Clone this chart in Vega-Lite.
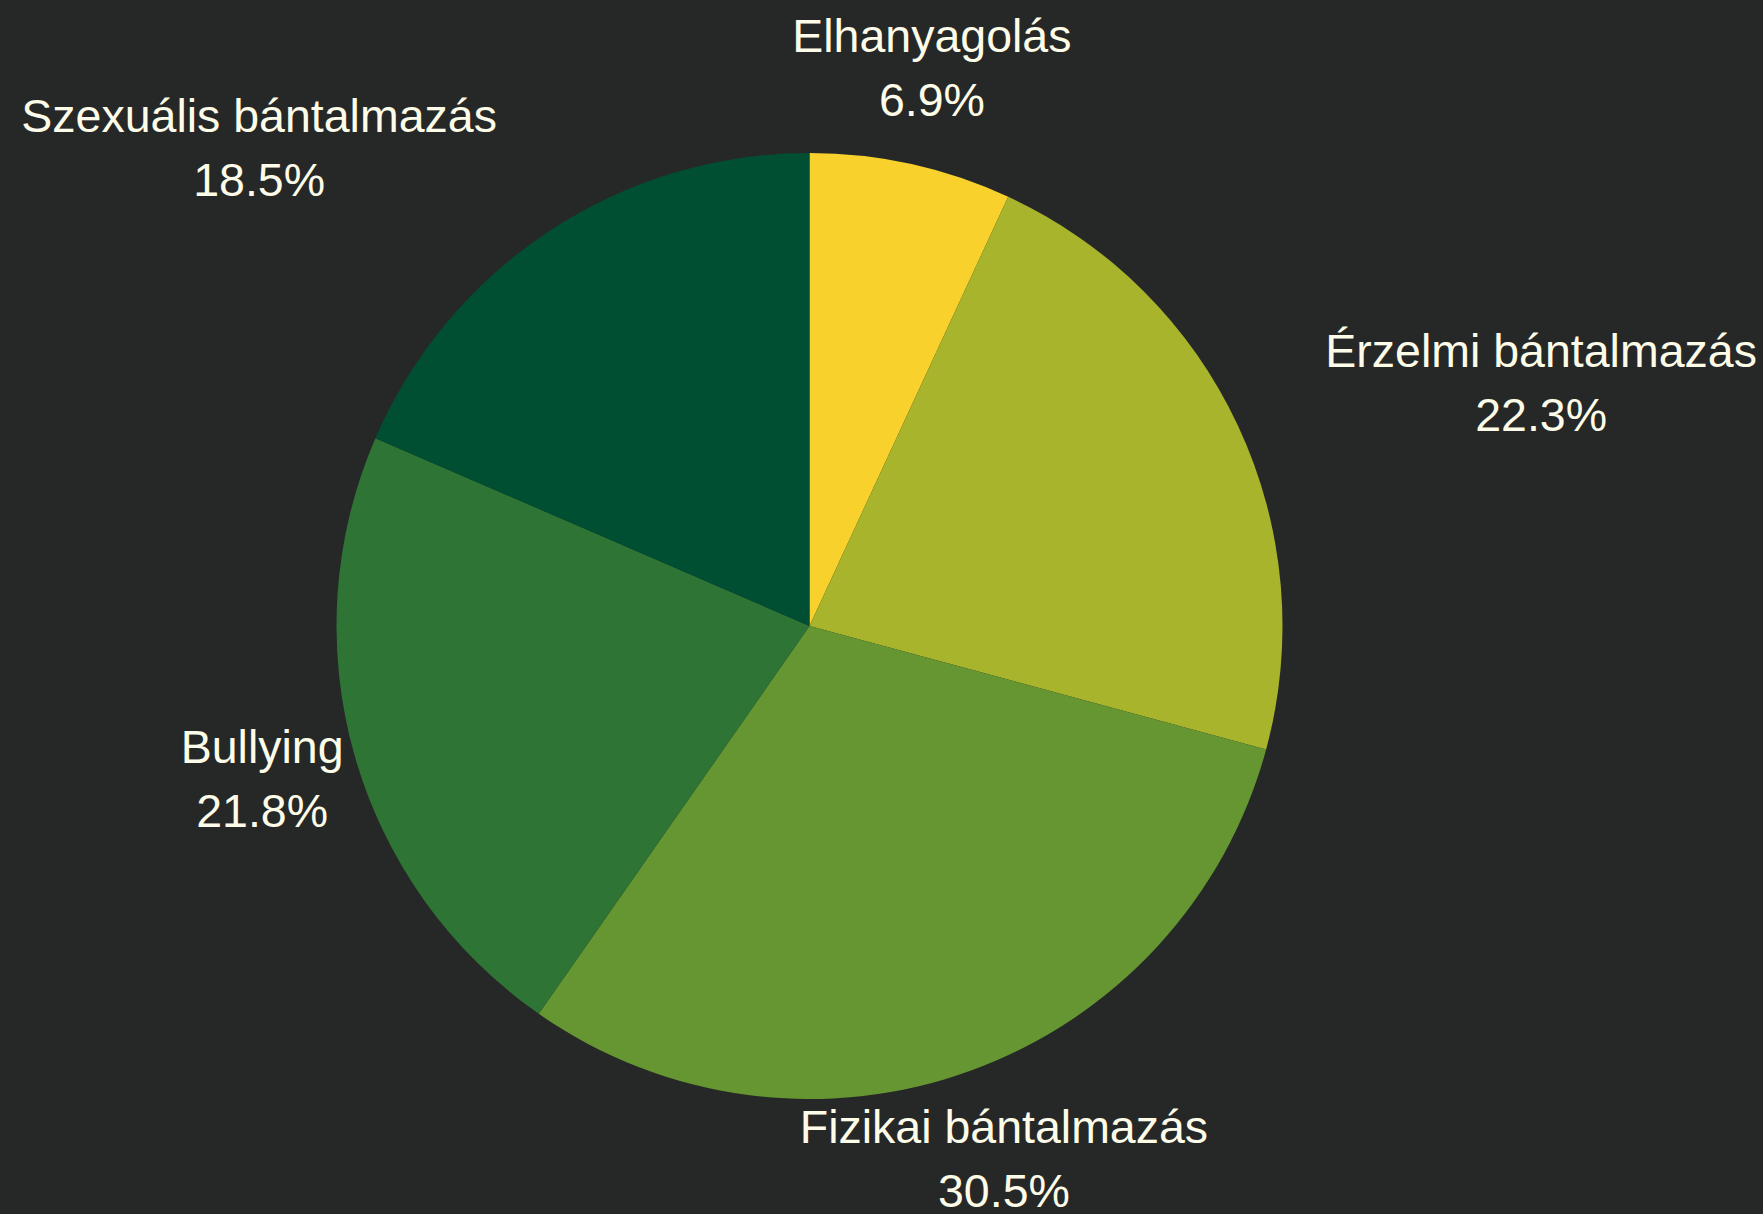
{
  "$schema": "https://vega.github.io/schema/vega-lite/v6.json",
  "width": 1619,
  "height": 1176,
  "autosize": {"type": "none"},
  "padding": {"top": 38, "left": 0, "right": 144, "bottom": 0},
  "background": "#262828",
  "config": {"view": {"stroke": null}},
  "data": {
    "values": [
      {"n": 1, "cat": "Elhanyagolás", "pct": 6.9},
      {"n": 2, "cat": "Érzelmi bántalmazás", "pct": 22.3},
      {"n": 3, "cat": "Fizikai bántalmazás", "pct": 30.5},
      {"n": 4, "cat": "Bullying", "pct": 21.8},
      {"n": 5, "cat": "Szexuális bántalmazás", "pct": 18.5}
    ]
  },
  "transform": [
    {"calculate": "datum.cat + '\\n' + format(datum.pct, '.1f') + '%'", "as": "label"}
  ],
  "encoding": {
    "theta": {"field": "pct", "type": "quantitative", "stack": true},
    "order": {"field": "n", "type": "quantitative"}
  },
  "layer": [
    {
      "mark": {"type": "arc", "outerRadius": 473, "stroke": null},
      "encoding": {
        "color": {
          "field": "cat",
          "type": "nominal",
          "sort": null,
          "scale": {
            "domain": ["Elhanyagolás", "Érzelmi bántalmazás", "Fizikai bántalmazás", "Bullying", "Szexuális bántalmazás"],
            "range": ["#F9D12D", "#A8B42C", "#659632", "#2E7535", "#004F33"]
          },
          "legend": null
        }
      }
    },
    {
      "mark": {
        "type": "text",
        "radius": 569,
        "font": "Liberation Sans",
        "fontSize": 46.5,
        "lineHeight": 64,
        "lineBreak": "\n",
        "baseline": "middle",
        "align": "center",
        "dy": -32,
        "color": "#FDFCE8",
        "dx": {"expr": "datum.cat == 'Érzelmi bántalmazás' ? 216 : (datum.cat == 'Szexuális bántalmazás' ? -238 : 0)"}
      },
      "encoding": {
        "text": {"field": "label", "type": "nominal"}
      }
    }
  ]
}
